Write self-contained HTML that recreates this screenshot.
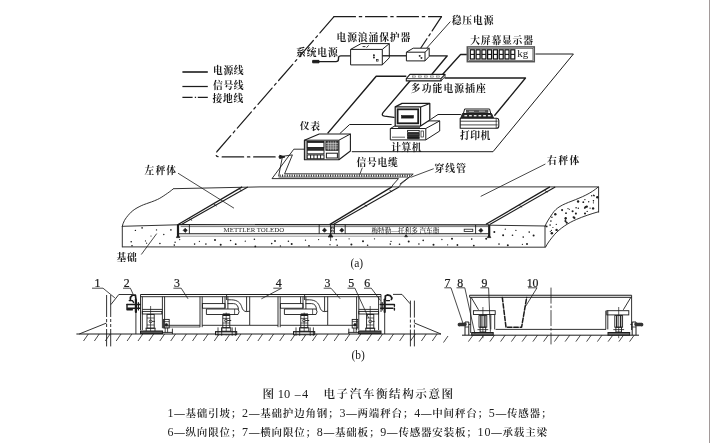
<!DOCTYPE html>
<html lang="zh"><head><meta charset="utf-8"><title>图10-4 电子汽车衡结构示意图</title>
<style>
html,body{margin:0;padding:0;background:#fff;}
body{width:710px;height:443px;overflow:hidden;position:relative;}
svg{position:absolute;left:0;top:0;display:block;filter:grayscale(1) blur(0.32px);}
.edge{position:absolute;left:708.7px;top:0;width:1.3px;height:443px;background:#a29a9a;}
.lb{font-family:"Liberation Serif","Noto Serif CJK SC",serif;font-weight:700;fill:#1a1a1a;}
.cp{font-family:"Liberation Serif","Noto Serif CJK SC",serif;font-weight:600;fill:#222;}
.nm{font-family:"Liberation Serif","Noto Serif CJK SC",serif;font-weight:400;fill:#1a1a1a;}
.nb{font-family:"Liberation Serif","Noto Serif CJK SC",serif;font-weight:400;fill:#1a1a1a;stroke:#1a1a1a;stroke-width:0.22px;}
.sm{font-family:"Liberation Serif","Noto Serif CJK SC",serif;font-weight:500;fill:#222;}
</style></head><body>
<svg width="710" height="443" viewBox="0 0 710 443">
<line x1="182.4" y1="72.0" x2="207.8" y2="72.0" stroke="#4a4a4a" stroke-width="2.0" />
<line x1="182.4" y1="86.5" x2="207.8" y2="86.5" stroke="#1c1c1c" stroke-width="1.25" />
<line x1="182.4" y1="97.3" x2="207.8" y2="97.3" stroke="#1c1c1c" stroke-width="1.2" stroke-dasharray="10.2 2.2 1.3 1.7 10.2"/>
<text x="213.0" y="74.0" font-size="9.8" class="lb" text-anchor="start" textLength="30.6" lengthAdjust="spacing">电源线</text>
<text x="213.0" y="88.5" font-size="9.8" class="lb" text-anchor="start" textLength="30.6" lengthAdjust="spacing">信号线</text>
<text x="212.4" y="102.2" font-size="9.8" class="lb" text-anchor="start" textLength="31" lengthAdjust="spacing">接地线</text>
<path d="M334,16.7 L441.5,16.7" fill="none" stroke="#1c1c1c" stroke-width="1.2" stroke-linejoin="round" stroke-linecap="round" stroke-dasharray="21.5 3.8 2.4 3.8"/>
<path d="M441.5,16.7 L420.8,48" fill="none" stroke="#1c1c1c" stroke-width="1.2" stroke-linejoin="round" stroke-linecap="round" stroke-dasharray="17 3.5 2.4 3.5 20"/>
<path d="M334,16.7 L217,151.5 Q214,156.9 220,156.9 L281,156.9" fill="none" stroke="#1c1c1c" stroke-width="1.2" stroke-linejoin="round" stroke-linecap="round" stroke-dasharray="21.5 3.8 2.4 3.8"/>
<path d="M280,155.4 L285,156.9 L280,158.4 Z" fill="#1c1c1c" stroke="#1c1c1c" stroke-width="1" stroke-linejoin="round" stroke-linecap="round" />
<polyline points="535.4,54.0 573.4,54.0 493.0,151.7 351.8,151.7" fill="none" stroke="#1c1c1c" stroke-width="1.0" stroke-linejoin="round" />
<polyline points="339.8,133.6 349.6,124.5 391.6,124.5" fill="none" stroke="#1c1c1c" stroke-width="1.0" stroke-linejoin="round" />
<polyline points="430.4,119.6 438.0,114.5 460.9,114.5" fill="none" stroke="#1c1c1c" stroke-width="1.0" stroke-linejoin="round" />
<path d="M318,61.6 L336,61.6 Q338.5,61.6 338.5,59 L338.5,57.8 Q338.5,55.8 341,55.8 L350.6,55.8" fill="none" stroke="#1c1c1c" stroke-width="1.35" stroke-linejoin="round" stroke-linecap="round" />
<path d="M313,60.4 L319,60.4 L319,62.8 L313,62.8 Z" fill="#1c1c1c" stroke="#1c1c1c" stroke-width="1" stroke-linejoin="round" stroke-linecap="round" />
<polyline points="425.4,55.8 447.3,55.8 431.7,74.5" fill="none" stroke="#1c1c1c" stroke-width="1.35" stroke-linejoin="round" />
<polyline points="466.9,54.5 460.6,54.5 442.3,74.8" fill="none" stroke="#1c1c1c" stroke-width="1.35" stroke-linejoin="round" />
<polyline points="406.3,76.2 376.2,76.2 327.6,133.4" fill="none" stroke="#1c1c1c" stroke-width="1.4500000000000002" stroke-linejoin="round" />
<path d="M410.2,80.8 L383,112.6 Q381,115.6 384.5,116.2 L394,117.4" fill="none" stroke="#1c1c1c" stroke-width="1.35" stroke-linejoin="round" stroke-linecap="round" />
<polyline points="444.5,78.0 525.5,78.0 494.4,115.8" fill="none" stroke="#1c1c1c" stroke-width="1.35" stroke-linejoin="round" />
<polygon points="350.6,49.4 361.1,43.6 389.3,43.6 389.3,57.8 382.3,64.9 350.6,64.9" fill="#fff" stroke="#1c1c1c" stroke-width="1" stroke-linejoin="round" />
<polyline points="350.6,49.4 382.3,49.4 389.3,43.6" fill="none" stroke="#1c1c1c" stroke-width="1" stroke-linejoin="round" />
<line x1="382.3" y1="49.4" x2="382.3" y2="64.9" stroke="#1c1c1c" stroke-width="1" />
<line x1="362.6" y1="46.6" x2="365.4" y2="46.6" stroke="#1c1c1c" stroke-width="0.9" />
<line x1="366.6" y1="47.6" x2="368.6" y2="45.4" stroke="#1c1c1c" stroke-width="0.9" />
<rect x="373.4" y="54.8" width="1.0" height="1.0" fill="#1c1c1c" stroke="#1c1c1c" stroke-width="0.7" />
<rect x="373.4" y="57.0" width="1.0" height="1.0" fill="#1c1c1c" stroke="#1c1c1c" stroke-width="0.7" />
<rect x="376.6" y="59.6" width="1.5" height="1.5" fill="none" stroke="#1c1c1c" stroke-width="0.7" />
<line x1="382.3" y1="55.8" x2="406.4" y2="55.8" stroke="#1c1c1c" stroke-width="1.35" />
<polygon points="406.4,52.2 413.2,48.2 429.2,48.2 429.2,56.4 425.0,60.9 406.4,60.9" fill="#fff" stroke="#1c1c1c" stroke-width="1" stroke-linejoin="round" />
<polyline points="406.4,52.2 425.0,52.2 429.2,48.2" fill="none" stroke="#1c1c1c" stroke-width="1" stroke-linejoin="round" />
<line x1="425.0" y1="52.2" x2="425.0" y2="60.9" stroke="#1c1c1c" stroke-width="1" />
<rect x="419.2" y="55.4" width="0.9" height="0.9" fill="#1c1c1c" stroke="#1c1c1c" stroke-width="0.7" />
<rect x="421.0" y="57.6" width="0.9" height="0.9" fill="#1c1c1c" stroke="#1c1c1c" stroke-width="0.7" />
<line x1="450.4" y1="21.5" x2="426.8" y2="48.0" stroke="#1c1c1c" stroke-width="0.9" />
<rect x="467.3" y="46.9" width="67.0" height="14.8" fill="#fff" stroke="#555" stroke-width="1.5" />
<rect x="468.7" y="48.3" width="64.2" height="12.0" fill="#fff" stroke="#333" stroke-width="0.6" />
<rect x="470.3" y="49.8" width="4.0" height="9.2" fill="none" stroke="#111" stroke-width="1.25" />
<line x1="470.3" y1="54.4" x2="474.3" y2="54.4" stroke="#111" stroke-width="1.1" />
<rect x="476.1" y="49.8" width="4.0" height="9.2" fill="none" stroke="#111" stroke-width="1.25" />
<line x1="476.1" y1="54.4" x2="480.1" y2="54.4" stroke="#111" stroke-width="1.1" />
<rect x="481.9" y="49.8" width="4.0" height="9.2" fill="none" stroke="#111" stroke-width="1.25" />
<line x1="481.9" y1="54.4" x2="485.9" y2="54.4" stroke="#111" stroke-width="1.1" />
<rect x="487.6" y="49.8" width="4.0" height="9.2" fill="none" stroke="#111" stroke-width="1.25" />
<line x1="487.6" y1="54.4" x2="491.6" y2="54.4" stroke="#111" stroke-width="1.1" />
<rect x="493.4" y="49.8" width="4.0" height="9.2" fill="none" stroke="#111" stroke-width="1.25" />
<line x1="493.4" y1="54.4" x2="497.4" y2="54.4" stroke="#111" stroke-width="1.1" />
<rect x="499.2" y="49.8" width="4.0" height="9.2" fill="none" stroke="#111" stroke-width="1.25" />
<line x1="499.2" y1="54.4" x2="503.2" y2="54.4" stroke="#111" stroke-width="1.1" />
<rect x="505.0" y="49.8" width="4.0" height="9.2" fill="none" stroke="#111" stroke-width="1.25" />
<line x1="505.0" y1="54.4" x2="509.0" y2="54.4" stroke="#111" stroke-width="1.1" />
<rect x="510.8" y="49.8" width="4.0" height="9.2" fill="none" stroke="#111" stroke-width="1.25" />
<line x1="510.8" y1="54.4" x2="514.8" y2="54.4" stroke="#111" stroke-width="1.1" />
<text x="517.2" y="57.4" font-size="11" class="nm" text-anchor="start" >kg</text>
<polygon points="406.3,78.6 409.9,74.4 445.0,74.4 441.0,78.6 441.0,80.9 406.3,80.9" fill="#fff" stroke="#1c1c1c" stroke-width="1.1" stroke-linejoin="round" />
<line x1="406.3" y1="78.6" x2="441.0" y2="78.6" stroke="#1c1c1c" stroke-width="0.8" />
<line x1="441.0" y1="80.9" x2="445.0" y2="76.6" stroke="#1c1c1c" stroke-width="0.9" />
<line x1="445.0" y1="74.4" x2="445.0" y2="76.6" stroke="#1c1c1c" stroke-width="0.9" />
<line x1="412.0" y1="76.5" x2="415.6" y2="76.5" stroke="#555" stroke-width="1.7" />
<line x1="412.5" y1="76.4" x2="415.2" y2="76.4" stroke="#fff" stroke-width="0.8" />
<line x1="418.0" y1="76.5" x2="421.6" y2="76.5" stroke="#555" stroke-width="1.7" />
<line x1="418.5" y1="76.4" x2="421.2" y2="76.4" stroke="#fff" stroke-width="0.8" />
<line x1="424.0" y1="76.5" x2="427.6" y2="76.5" stroke="#555" stroke-width="1.7" />
<line x1="424.5" y1="76.4" x2="427.2" y2="76.4" stroke="#fff" stroke-width="0.8" />
<line x1="430.0" y1="76.5" x2="433.6" y2="76.5" stroke="#555" stroke-width="1.7" />
<line x1="430.5" y1="76.4" x2="433.2" y2="76.4" stroke="#fff" stroke-width="0.8" />
<line x1="436.0" y1="76.5" x2="439.6" y2="76.5" stroke="#555" stroke-width="1.7" />
<line x1="436.5" y1="76.4" x2="439.2" y2="76.4" stroke="#fff" stroke-width="0.8" />
<polygon points="304.4,140.2 319.2,134.0 350.4,134.0 350.4,151.0 338.9,159.7 304.4,159.7" fill="#fff" stroke="#1c1c1c" stroke-width="1.1" stroke-linejoin="round" />
<polyline points="304.4,140.2 338.9,140.2 350.4,134.0" fill="none" stroke="#1c1c1c" stroke-width="1.0" stroke-linejoin="round" />
<line x1="338.9" y1="140.2" x2="338.9" y2="159.7" stroke="#1c1c1c" stroke-width="1.1" />
<line x1="306.0" y1="140.2" x2="306.0" y2="159.7" stroke="#1c1c1c" stroke-width="0.7" />
<rect x="307.2" y="141.4" width="16.8" height="6.2" fill="none" stroke="#1c1c1c" stroke-width="1.1" />
<line x1="307.2" y1="142.4" x2="324.0" y2="142.4" stroke="#1c1c1c" stroke-width="1.0" />
<rect x="307.2" y="148.4" width="16.8" height="1.4" fill="#1c1c1c" stroke="#1c1c1c" stroke-width="0.8" />
<rect x="307.2" y="150.2" width="16.8" height="3.6" fill="none" stroke="#1c1c1c" stroke-width="0.9" />
<rect x="307.2" y="154.9" width="16.8" height="3.9" fill="none" stroke="#1c1c1c" stroke-width="1.0" />
<line x1="310.6" y1="154.9" x2="310.6" y2="158.8" stroke="#1c1c1c" stroke-width="1.0" />
<line x1="313.9" y1="154.9" x2="313.9" y2="158.8" stroke="#1c1c1c" stroke-width="1.0" />
<line x1="317.3" y1="154.9" x2="317.3" y2="158.8" stroke="#1c1c1c" stroke-width="1.0" />
<line x1="320.6" y1="154.9" x2="320.6" y2="158.8" stroke="#1c1c1c" stroke-width="1.0" />
<rect x="325.9" y="141.3" width="12.2" height="9.0" fill="#555" stroke="#1c1c1c" stroke-width="0.9" />
<line x1="328.3" y1="141.3" x2="328.3" y2="150.3" stroke="#ddd" stroke-width="0.6" />
<line x1="330.8" y1="141.3" x2="330.8" y2="150.3" stroke="#ddd" stroke-width="0.6" />
<line x1="333.2" y1="141.3" x2="333.2" y2="150.3" stroke="#ddd" stroke-width="0.6" />
<line x1="335.7" y1="141.3" x2="335.7" y2="150.3" stroke="#ddd" stroke-width="0.6" />
<line x1="325.9" y1="143.6" x2="338.1" y2="143.6" stroke="#ddd" stroke-width="0.6" />
<line x1="325.9" y1="145.8" x2="338.1" y2="145.8" stroke="#ddd" stroke-width="0.6" />
<line x1="325.9" y1="148.1" x2="338.1" y2="148.1" stroke="#ddd" stroke-width="0.6" />
<rect x="326.4" y="153.2" width="11.0" height="4.8" fill="none" stroke="#1c1c1c" stroke-width="1.0" />
<polygon points="390.3,128.5 404.0,120.9 439.7,120.9 439.7,131.0 425.8,139.9 390.3,139.9" fill="#fff" stroke="#1c1c1c" stroke-width="1" stroke-linejoin="round" />
<polyline points="390.3,128.5 425.8,128.5 439.7,120.9" fill="none" stroke="#1c1c1c" stroke-width="1" stroke-linejoin="round" />
<line x1="425.8" y1="128.5" x2="425.8" y2="139.9" stroke="#1c1c1c" stroke-width="1" />
<rect x="407.6" y="130.4" width="11.6" height="2.0" fill="none" stroke="#1c1c1c" stroke-width="0.9" />
<rect x="407.6" y="133.4" width="11.6" height="2.2" fill="#444" stroke="#1c1c1c" stroke-width="0.9" />
<rect x="407.6" y="136.6" width="11.6" height="1.8" fill="#1c1c1c" stroke="#1c1c1c" stroke-width="0.9" />
<line x1="392.0" y1="137.2" x2="405.0" y2="137.2" stroke="#1c1c1c" stroke-width="0.7" />
<rect x="421.0" y="131.0" width="2.6" height="6.0" fill="none" stroke="#1c1c1c" stroke-width="0.7" />
<polygon points="395.2,106.9 402.0,103.4 429.8,103.4 429.8,119.9 420.6,126.0 395.2,126.0" fill="#fff" stroke="#1c1c1c" stroke-width="1.25" stroke-linejoin="round" />
<polyline points="395.2,106.9 420.6,106.9 429.8,103.4" fill="none" stroke="#1c1c1c" stroke-width="1.1" stroke-linejoin="round" />
<line x1="420.6" y1="106.9" x2="420.6" y2="126.0" stroke="#1c1c1c" stroke-width="1.2" />
<rect x="397.6" y="109.3" width="20.6" height="14.0" fill="none" stroke="#1c1c1c" stroke-width="1.8" />
<rect x="401.5" y="115.5" width="12.0" height="2.6" fill="#1c1c1c" stroke="#1c1c1c" stroke-width="0.6" />
<line x1="398.0" y1="127.6" x2="420.0" y2="127.6" stroke="#1c1c1c" stroke-width="0.8" />
<polygon points="463.4,113.6 464.6,109.0 489.6,109.0 490.8,113.6" fill="#fff" stroke="#1c1c1c" stroke-width="1.0" stroke-linejoin="round" />
<rect x="466.4" y="110.3" width="21.6" height="2.3" fill="#555" stroke="#333" stroke-width="0.6" />
<line x1="469.0" y1="111.4" x2="474.0" y2="111.4" stroke="#ddd" stroke-width="0.7" />
<line x1="479.0" y1="111.2" x2="485.0" y2="111.2" stroke="#ddd" stroke-width="0.7" />
<polygon points="460.8,118.2 462.4,113.6 491.6,113.6 493.6,118.2" fill="#2a2a2a" stroke="#1c1c1c" stroke-width="0.9" stroke-linejoin="round" />
<line x1="464.4" y1="115.7" x2="467.1" y2="115.7" stroke="#f4f4f4" stroke-width="1.3" />
<line x1="469.1" y1="115.7" x2="471.8" y2="115.7" stroke="#f4f4f4" stroke-width="1.3" />
<line x1="473.8" y1="115.7" x2="476.5" y2="115.7" stroke="#f4f4f4" stroke-width="1.3" />
<line x1="478.5" y1="115.7" x2="481.2" y2="115.7" stroke="#f4f4f4" stroke-width="1.3" />
<line x1="483.2" y1="115.7" x2="485.9" y2="115.7" stroke="#f4f4f4" stroke-width="1.3" />
<line x1="487.9" y1="115.7" x2="490.6" y2="115.7" stroke="#f4f4f4" stroke-width="1.3" />
<path d="M460.2,118.2 L496.8,118.2 Q498.8,118.4 498.8,120.6 L498.8,126 Q498.8,128.3 496.4,128.3 L460.2,128.3 Z" fill="#fff" stroke="#1c1c1c" stroke-width="1.1" stroke-linejoin="round" stroke-linecap="round" />
<line x1="460.2" y1="121.2" x2="497.6" y2="121.2" stroke="#1c1c1c" stroke-width="0.8" />
<line x1="460.2" y1="124.9" x2="497.6" y2="124.9" stroke="#1c1c1c" stroke-width="0.8" />
<line x1="496.2" y1="118.2" x2="496.2" y2="128.3" stroke="#1c1c1c" stroke-width="0.7" />
<text x="336.6" y="40.5" font-size="9.8" class="lb" text-anchor="start" textLength="73.6" lengthAdjust="spacing">电源浪涌保护器</text>
<text x="296.0" y="55.8" font-size="9.8" class="lb" text-anchor="start" textLength="41.8" lengthAdjust="spacing">系统电源</text>
<text x="451.7" y="24.2" font-size="9.8" class="lb" text-anchor="start" textLength="41.8" lengthAdjust="spacing">稳压电源</text>
<text x="470.2" y="43.7" font-size="9.8" class="lb" text-anchor="start" textLength="62.8" lengthAdjust="spacing">大屏幕显示器</text>
<text x="410.8" y="92.4" font-size="9.8" class="lb" text-anchor="start" textLength="75" lengthAdjust="spacing">多功能电源插座</text>
<text x="299.8" y="130.2" font-size="9.8" class="lb" text-anchor="start" textLength="20.2" lengthAdjust="spacing">仪表</text>
<text x="391.2" y="151.3" font-size="9.8" class="lb" text-anchor="start" textLength="30.4" lengthAdjust="spacing">计算机</text>
<text x="460.0" y="139.2" font-size="9.8" class="lb" text-anchor="start" textLength="30.2" lengthAdjust="spacing">打印机</text>
<text x="356.6" y="166.4" font-size="9.8" class="lb" text-anchor="start" textLength="41.2" lengthAdjust="spacing">信号电缆</text>
<text x="434.4" y="171.8" font-size="9.8" class="lb" text-anchor="start" textLength="31.6" lengthAdjust="spacing">穿线管</text>
<text x="547.0" y="164.4" font-size="9.8" class="lb" text-anchor="start" textLength="32.4" lengthAdjust="spacing">右秤体</text>
<text x="144.6" y="174.4" font-size="9.8" class="lb" text-anchor="start" textLength="31.4" lengthAdjust="spacing">左秤体</text>
<text x="116.5" y="261.4" font-size="9.8" class="lb" text-anchor="start" textLength="20.4" lengthAdjust="spacing">基础</text>
<line x1="173.5" y1="188.7" x2="260.0" y2="186.9" stroke="#1c1c1c" stroke-width="0.9" />
<line x1="260.0" y1="186.9" x2="598.6" y2="186.9" stroke="#1c1c1c" stroke-width="0.9" />
<path d="M173.5,188.7 C170,191.5 168,193 165.8,194.4 C162,197 160,198.3 157.4,199.5 C153,201.5 150,202.4 146.4,203.7 C142,205.2 140,206.3 137,207.9 C134,209.6 131.5,211.5 129.5,213.8 C127.2,216.4 125.6,218.4 124.4,220.6 C123.3,222.8 122.6,224.6 122.2,226.5" fill="none" stroke="#1c1c1c" stroke-width="0.9" stroke-linejoin="round" stroke-linecap="round" />
<polyline points="122.3,226.3 122.3,247.3" fill="none" stroke="#1c1c1c" stroke-width="0.9" stroke-linejoin="round" />
<line x1="122.3" y1="226.3" x2="177.3" y2="224.8" stroke="#1c1c1c" stroke-width="0.9" />
<line x1="122.3" y1="246.9" x2="545.6" y2="247.2" stroke="#1c1c1c" stroke-width="0.9" />
<line x1="598.6" y1="186.8" x2="598.6" y2="212.5" stroke="#1c1c1c" stroke-width="0.9" />
<path d="M598.2,187 C591,193.5 581,197.5 572,201 C562,204.8 556.5,207.5 552.5,213.5 C548.5,219.5 546.2,223 545,226.3" fill="none" stroke="#1c1c1c" stroke-width="0.9" stroke-linejoin="round" stroke-linecap="round" />
<path d="M598.4,211.8 C591,213.8 583,216.6 576.5,219.4 C568,223 560,228.5 554.8,234.2 C551,238.6 547.6,243 545.6,247" fill="none" stroke="#1c1c1c" stroke-width="0.9" stroke-linejoin="round" stroke-linecap="round" />
<line x1="545.0" y1="226.2" x2="545.0" y2="247.0" stroke="#1c1c1c" stroke-width="0.9" />
<line x1="489.6" y1="225.2" x2="546.0" y2="226.0" stroke="#1c1c1c" stroke-width="0.9" />
<line x1="178.0" y1="173.2" x2="234.0" y2="208.2" stroke="#1c1c1c" stroke-width="0.8" />
<line x1="545.4" y1="164.0" x2="480.7" y2="196.4" stroke="#1c1c1c" stroke-width="0.8" />
<line x1="141.3" y1="254.5" x2="156.7" y2="233.6" stroke="#1c1c1c" stroke-width="0.8" />
<line x1="433.7" y1="168.7" x2="410.6" y2="177.4" stroke="#1c1c1c" stroke-width="0.8" />
<line x1="362.3" y1="167.7" x2="359.7" y2="174.6" stroke="#1c1c1c" stroke-width="0.8" />
<line x1="177.7" y1="224.8" x2="242.2" y2="186.9" stroke="#1c1c1c" stroke-width="1.25" />
<line x1="181.0" y1="224.8" x2="247.8" y2="186.9" stroke="#1c1c1c" stroke-width="1.1" />
<line x1="329.6" y1="224.6" x2="391.9" y2="186.9" stroke="#1c1c1c" stroke-width="1.25" />
<line x1="333.2" y1="224.6" x2="399.0" y2="186.9" stroke="#1c1c1c" stroke-width="1.1" />
<line x1="486.0" y1="224.3" x2="549.9" y2="186.9" stroke="#1c1c1c" stroke-width="1.25" />
<line x1="489.7" y1="224.6" x2="555.2" y2="186.9" stroke="#1c1c1c" stroke-width="1.1" />
<line x1="189.5" y1="218.8" x2="192.1" y2="220.4" stroke="#1c1c1c" stroke-width="0.9" />
<line x1="214.0" y1="204.4" x2="216.6" y2="206.0" stroke="#1c1c1c" stroke-width="0.9" />
<line x1="239.5" y1="189.4" x2="242.1" y2="191.0" stroke="#1c1c1c" stroke-width="0.9" />
<line x1="364.5" y1="204.8" x2="367.1" y2="206.4" stroke="#1c1c1c" stroke-width="0.9" />
<line x1="389.5" y1="190.2" x2="392.1" y2="191.8" stroke="#1c1c1c" stroke-width="0.9" />
<line x1="519.5" y1="205.6" x2="522.1" y2="207.2" stroke="#1c1c1c" stroke-width="0.9" />
<line x1="545.0" y1="190.6" x2="547.6" y2="192.2" stroke="#1c1c1c" stroke-width="0.9" />
<line x1="177.3" y1="224.6" x2="489.6" y2="224.9" stroke="#1c1c1c" stroke-width="1.1" />
<line x1="177.3" y1="233.8" x2="489.6" y2="233.8" stroke="#1c1c1c" stroke-width="1.1" />
<line x1="179.0" y1="236.2" x2="488.0" y2="236.2" stroke="#555" stroke-width="0.6" />
<line x1="178.0" y1="224.6" x2="178.0" y2="236.8" stroke="#1c1c1c" stroke-width="2.2" />
<line x1="489.2" y1="224.9" x2="489.2" y2="236.8" stroke="#1c1c1c" stroke-width="2.2" />
<line x1="180.6" y1="226.6" x2="488.0" y2="226.6" stroke="#1c1c1c" stroke-width="0.6" />
<line x1="189.4" y1="224.6" x2="189.4" y2="233.8" stroke="#1c1c1c" stroke-width="0.9" />
<line x1="319.2" y1="224.6" x2="319.2" y2="233.8" stroke="#1c1c1c" stroke-width="0.9" />
<line x1="345.2" y1="224.6" x2="345.2" y2="233.8" stroke="#1c1c1c" stroke-width="0.9" />
<line x1="475.6" y1="224.9" x2="475.6" y2="233.8" stroke="#1c1c1c" stroke-width="0.9" />
<line x1="330.6" y1="224.6" x2="330.6" y2="233.8" stroke="#1c1c1c" stroke-width="1.0" />
<line x1="334.4" y1="224.6" x2="334.4" y2="233.8" stroke="#1c1c1c" stroke-width="1.0" />
<rect x="331.6" y="227.4" width="1.8" height="1.6" fill="none" stroke="#1c1c1c" stroke-width="0.6" />
<rect x="331.6" y="230.4" width="1.8" height="1.6" fill="none" stroke="#1c1c1c" stroke-width="0.6" />
<polygon points="183.1,230.3 185.2,228.2 187.3,230.3 185.2,232.4" fill="#1c1c1c" stroke="#1c1c1c" stroke-width="0.6" stroke-linejoin="round" />
<polygon points="322.4,230.2 324.5,228.1 326.6,230.2 324.5,232.3" fill="#1c1c1c" stroke="#1c1c1c" stroke-width="0.6" stroke-linejoin="round" />
<polygon points="339.7,230.2 341.8,228.1 343.9,230.2 341.8,232.3" fill="#1c1c1c" stroke="#1c1c1c" stroke-width="0.6" stroke-linejoin="round" />
<polygon points="478.8,230.4 480.9,228.3 483.0,230.4 480.9,232.5" fill="#1c1c1c" stroke="#1c1c1c" stroke-width="0.6" stroke-linejoin="round" />
<rect x="464.2" y="229.2" width="8.6" height="2.4" fill="none" stroke="#1c1c1c" stroke-width="0.8" />
<polygon points="178.0,235.0 176.4,237.6 179.8,237.6" fill="#1c1c1c" stroke="#1c1c1c" stroke-width="0.8" stroke-linejoin="round" />
<polygon points="330.6,233.6 328.2,237.0 333.0,237.0" fill="#1c1c1c" stroke="#1c1c1c" stroke-width="0.8" stroke-linejoin="round" />
<line x1="330.6" y1="237.0" x2="330.6" y2="241.0" stroke="#1c1c1c" stroke-width="0.7" />
<polygon points="489.0,235.0 487.4,237.6 490.8,237.6" fill="#1c1c1c" stroke="#1c1c1c" stroke-width="0.8" stroke-linejoin="round" />
<polygon points="406.0,234.6 404.6,236.8 407.6,236.8" fill="#1c1c1c" stroke="#1c1c1c" stroke-width="0.6" stroke-linejoin="round" />
<text x="223.6" y="231.9" font-size="6.2" class="sm" text-anchor="start" textLength="60.5" lengthAdjust="spacingAndGlyphs">METTLER TOLEDO</text>
<text x="371.4" y="232.6" font-size="6.3" class="sm" text-anchor="start" textLength="68" lengthAdjust="spacingAndGlyphs">梅特勒—托利多 汽车衡</text>
<text x="350.4" y="266.8" font-size="11.5" class="nm" text-anchor="start" >(a)</text>
<circle cx="135.4" cy="230.4" r="0.7" fill="#1c1c1c"/>
<circle cx="142.1" cy="227.9" r="0.8" fill="#1c1c1c"/>
<circle cx="156.5" cy="229.9" r="0.7" fill="#1c1c1c"/>
<circle cx="163.8" cy="234.5" r="0.7" fill="#1c1c1c"/>
<circle cx="170.9" cy="229.9" r="0.8" fill="#1c1c1c"/>
<circle cx="131.2" cy="241.8" r="0.8" fill="#1c1c1c"/>
<circle cx="145.5" cy="240.9" r="0.6" fill="#1c1c1c"/>
<circle cx="146.6" cy="243.2" r="0.6" fill="#1c1c1c"/>
<circle cx="159.9" cy="243.5" r="0.8" fill="#1c1c1c"/>
<circle cx="175.1" cy="242.3" r="0.7" fill="#1c1c1c"/>
<circle cx="174.3" cy="245.1" r="0.8" fill="#1c1c1c"/>
<circle cx="132.0" cy="245.8" r="0.8" fill="#1c1c1c"/>
<circle cx="151.0" cy="236.0" r="0.6" fill="#1c1c1c"/>
<circle cx="179.7" cy="239.6" r="0.65" fill="#1c1c1c"/>
<circle cx="199.4" cy="241.3" r="0.65" fill="#1c1c1c"/>
<circle cx="215.0" cy="239.9" r="1.0" fill="#1c1c1c"/>
<circle cx="230.6" cy="240.5" r="0.8" fill="#1c1c1c"/>
<circle cx="245.3" cy="241.2" r="0.65" fill="#1c1c1c"/>
<circle cx="254.4" cy="239.3" r="0.8" fill="#1c1c1c"/>
<circle cx="275.0" cy="241.0" r="0.9" fill="#1c1c1c"/>
<circle cx="288.4" cy="241.2" r="0.8" fill="#1c1c1c"/>
<circle cx="305.5" cy="240.2" r="0.65" fill="#1c1c1c"/>
<circle cx="318.6" cy="239.6" r="0.65" fill="#1c1c1c"/>
<circle cx="336.2" cy="239.7" r="0.8" fill="#1c1c1c"/>
<circle cx="349.1" cy="238.8" r="0.65" fill="#1c1c1c"/>
<circle cx="363.0" cy="241.2" r="1.0" fill="#1c1c1c"/>
<circle cx="374.5" cy="238.8" r="0.65" fill="#1c1c1c"/>
<circle cx="391.0" cy="241.4" r="0.65" fill="#1c1c1c"/>
<circle cx="408.7" cy="241.6" r="1.0" fill="#1c1c1c"/>
<circle cx="423.2" cy="240.4" r="0.8" fill="#1c1c1c"/>
<circle cx="441.9" cy="239.5" r="0.65" fill="#1c1c1c"/>
<circle cx="452.0" cy="238.8" r="1.0" fill="#1c1c1c"/>
<circle cx="471.7" cy="239.1" r="0.8" fill="#1c1c1c"/>
<circle cx="486.2" cy="238.8" r="1.0" fill="#1c1c1c"/>
<circle cx="194.6" cy="244.1" r="0.8" fill="#1c1c1c"/>
<circle cx="205.9" cy="244.1" r="0.8" fill="#1c1c1c"/>
<circle cx="220.7" cy="244.7" r="1.0" fill="#1c1c1c"/>
<circle cx="235.7" cy="244.2" r="0.9" fill="#1c1c1c"/>
<circle cx="255.3" cy="246.4" r="0.9" fill="#1c1c1c"/>
<circle cx="271.7" cy="243.6" r="0.8" fill="#1c1c1c"/>
<circle cx="280.4" cy="246.0" r="0.65" fill="#1c1c1c"/>
<circle cx="291.7" cy="244.0" r="1.0" fill="#1c1c1c"/>
<circle cx="309.0" cy="245.8" r="0.9" fill="#1c1c1c"/>
<circle cx="330.0" cy="244.7" r="0.65" fill="#1c1c1c"/>
<circle cx="337.2" cy="245.2" r="0.8" fill="#1c1c1c"/>
<circle cx="351.4" cy="244.6" r="1.0" fill="#1c1c1c"/>
<circle cx="367.6" cy="245.3" r="0.8" fill="#1c1c1c"/>
<circle cx="390.3" cy="244.1" r="0.8" fill="#1c1c1c"/>
<circle cx="399.5" cy="244.2" r="0.8" fill="#1c1c1c"/>
<circle cx="418.9" cy="244.0" r="0.8" fill="#1c1c1c"/>
<circle cx="433.5" cy="244.7" r="1.0" fill="#1c1c1c"/>
<circle cx="447.6" cy="244.8" r="0.65" fill="#1c1c1c"/>
<circle cx="457.4" cy="245.0" r="0.9" fill="#1c1c1c"/>
<circle cx="473.8" cy="245.6" r="0.9" fill="#1c1c1c"/>
<circle cx="494.3" cy="232.1" r="1.0" fill="#1c1c1c"/>
<circle cx="505.3" cy="229.2" r="0.65" fill="#1c1c1c"/>
<circle cx="515.9" cy="230.4" r="0.65" fill="#1c1c1c"/>
<circle cx="529.2" cy="232.1" r="0.8" fill="#1c1c1c"/>
<circle cx="503.1" cy="235.3" r="1.0" fill="#1c1c1c"/>
<circle cx="512.5" cy="235.3" r="0.8" fill="#1c1c1c"/>
<circle cx="523.2" cy="237.1" r="0.8" fill="#1c1c1c"/>
<circle cx="533.6" cy="235.6" r="1.0" fill="#1c1c1c"/>
<circle cx="499.0" cy="244.1" r="0.8" fill="#1c1c1c"/>
<circle cx="507.8" cy="245.2" r="1.0" fill="#1c1c1c"/>
<circle cx="522.4" cy="244.3" r="0.65" fill="#1c1c1c"/>
<circle cx="527.0" cy="244.0" r="1.0" fill="#1c1c1c"/>
<circle cx="569.3" cy="209.3" r="0.6" fill="#1c1c1c"/>
<circle cx="593.1" cy="208.4" r="1.2" fill="#1c1c1c"/>
<circle cx="546.7" cy="226.4" r="0.9" fill="#1c1c1c"/>
<circle cx="550.1" cy="225.1" r="0.8" fill="#1c1c1c"/>
<circle cx="575.9" cy="213.6" r="1.05" fill="#1c1c1c"/>
<circle cx="550.3" cy="231.5" r="0.6" fill="#1c1c1c"/>
<circle cx="551.8" cy="233.2" r="1.2" fill="#1c1c1c"/>
<circle cx="593.4" cy="202.8" r="0.6" fill="#1c1c1c"/>
<circle cx="584.8" cy="207.9" r="0.9" fill="#1c1c1c"/>
<circle cx="584.9" cy="199.6" r="0.7" fill="#1c1c1c"/>
<circle cx="565.8" cy="221.8" r="0.8" fill="#1c1c1c"/>
<circle cx="565.7" cy="218.2" r="1.2" fill="#1c1c1c"/>
<circle cx="588.7" cy="201.8" r="0.7" fill="#1c1c1c"/>
<circle cx="597.3" cy="197.2" r="1.2" fill="#1c1c1c"/>
<circle cx="565.4" cy="221.0" r="1.05" fill="#1c1c1c"/>
<circle cx="556.6" cy="229.9" r="1.2" fill="#1c1c1c"/>
<circle cx="593.6" cy="195.2" r="0.7" fill="#1c1c1c"/>
<circle cx="586.7" cy="206.6" r="1.2" fill="#1c1c1c"/>
<circle cx="590.1" cy="208.2" r="0.6" fill="#1c1c1c"/>
<circle cx="593.4" cy="200.7" r="0.6" fill="#1c1c1c"/>
<circle cx="585.0" cy="213.5" r="1.05" fill="#1c1c1c"/>
<circle cx="562.1" cy="210.1" r="1.05" fill="#1c1c1c"/>
<circle cx="573.6" cy="217.2" r="1.05" fill="#1c1c1c"/>
<circle cx="565.4" cy="219.2" r="0.6" fill="#1c1c1c"/>
<circle cx="572.6" cy="211.2" r="1.05" fill="#1c1c1c"/>
<circle cx="587.2" cy="211.4" r="0.7" fill="#1c1c1c"/>
<circle cx="552.7" cy="233.2" r="0.6" fill="#1c1c1c"/>
<circle cx="583.3" cy="202.2" r="0.9" fill="#1c1c1c"/>
<circle cx="551.4" cy="230.4" r="0.6" fill="#1c1c1c"/>
<circle cx="578.3" cy="208.2" r="0.7" fill="#1c1c1c"/>
<circle cx="593.5" cy="200.7" r="0.7" fill="#1c1c1c"/>
<circle cx="591.7" cy="195.8" r="0.7" fill="#1c1c1c"/>
<circle cx="566.0" cy="213.2" r="0.9" fill="#1c1c1c"/>
<circle cx="556.3" cy="224.4" r="0.6" fill="#1c1c1c"/>
<circle cx="550.9" cy="221.1" r="0.8" fill="#1c1c1c"/>
<circle cx="551.9" cy="217.3" r="0.8" fill="#1c1c1c"/>
<circle cx="574.4" cy="217.9" r="1.05" fill="#1c1c1c"/>
<circle cx="552.9" cy="227.5" r="0.6" fill="#1c1c1c"/>
<circle cx="585.4" cy="207.0" r="0.9" fill="#1c1c1c"/>
<circle cx="568.0" cy="208.6" r="0.7" fill="#1c1c1c"/>
<circle cx="555.3" cy="214.3" r="1.2" fill="#1c1c1c"/>
<circle cx="586.8" cy="206.8" r="0.6" fill="#1c1c1c"/>
<circle cx="566.8" cy="222.8" r="1.05" fill="#1c1c1c"/>
<circle cx="576.1" cy="207.8" r="0.8" fill="#1c1c1c"/>
<circle cx="594.1" cy="195.7" r="0.8" fill="#1c1c1c"/>
<circle cx="578.1" cy="201.5" r="1.2" fill="#1c1c1c"/>
<polyline points="304.4,149.2 293.8,149.2 272.0,178.6 398.5,178.6 392.8,185.0 391.9,186.9" fill="none" stroke="#1c1c1c" stroke-width="0.9" stroke-linejoin="round" />
<polyline points="282.5,156.3 278.6,176.3" fill="none" stroke="#1c1c1c" stroke-width="0.9" stroke-linejoin="round" />
<polyline points="292.4,154.9 284.6,173.8 413.2,174.1 401.5,183.5 399.0,186.8" fill="none" stroke="#1c1c1c" stroke-width="0.9" stroke-linejoin="round" />
<line x1="282.5" y1="156.3" x2="292.4" y2="154.9" stroke="#1c1c1c" stroke-width="0.9" />
<polyline points="279.6,175.7 410.0,175.7" fill="none" stroke="#333" stroke-width="2.2" stroke-linejoin="round" stroke-dasharray="1.1 1.3"/>
<line x1="278.6" y1="177.1" x2="408.0" y2="177.1" stroke="#1c1c1c" stroke-width="0.7" />
<line x1="409.5" y1="176.8" x2="399.8" y2="184.0" stroke="#1c1c1c" stroke-width="0.8" />
<line x1="76.4" y1="334.0" x2="441.0" y2="334.0" stroke="#1c1c1c" stroke-width="1.0" />
<line x1="88.3" y1="334.0" x2="83.5" y2="341.0" stroke="#1c1c1c" stroke-width="0.8" />
<line x1="99.2" y1="334.0" x2="94.4" y2="341.0" stroke="#1c1c1c" stroke-width="0.8" />
<line x1="110.1" y1="334.0" x2="105.3" y2="341.0" stroke="#1c1c1c" stroke-width="0.8" />
<line x1="121.0" y1="334.0" x2="116.2" y2="341.0" stroke="#1c1c1c" stroke-width="0.8" />
<line x1="131.9" y1="334.0" x2="127.1" y2="341.0" stroke="#1c1c1c" stroke-width="0.8" />
<line x1="142.8" y1="334.0" x2="138.0" y2="341.0" stroke="#1c1c1c" stroke-width="0.8" />
<line x1="153.7" y1="334.0" x2="148.9" y2="341.0" stroke="#1c1c1c" stroke-width="0.8" />
<line x1="164.6" y1="334.0" x2="159.8" y2="341.0" stroke="#1c1c1c" stroke-width="0.8" />
<line x1="175.5" y1="334.0" x2="170.7" y2="341.0" stroke="#1c1c1c" stroke-width="0.8" />
<line x1="186.4" y1="334.0" x2="181.6" y2="341.0" stroke="#1c1c1c" stroke-width="0.8" />
<line x1="197.3" y1="334.0" x2="192.5" y2="341.0" stroke="#1c1c1c" stroke-width="0.8" />
<line x1="208.2" y1="334.0" x2="203.4" y2="341.0" stroke="#1c1c1c" stroke-width="0.8" />
<line x1="219.1" y1="334.0" x2="214.3" y2="341.0" stroke="#1c1c1c" stroke-width="0.8" />
<line x1="230.0" y1="334.0" x2="225.2" y2="341.0" stroke="#1c1c1c" stroke-width="0.8" />
<line x1="240.9" y1="334.0" x2="236.1" y2="341.0" stroke="#1c1c1c" stroke-width="0.8" />
<line x1="251.8" y1="334.0" x2="247.0" y2="341.0" stroke="#1c1c1c" stroke-width="0.8" />
<line x1="262.7" y1="334.0" x2="257.9" y2="341.0" stroke="#1c1c1c" stroke-width="0.8" />
<line x1="273.6" y1="334.0" x2="268.8" y2="341.0" stroke="#1c1c1c" stroke-width="0.8" />
<line x1="284.5" y1="334.0" x2="279.7" y2="341.0" stroke="#1c1c1c" stroke-width="0.8" />
<line x1="295.4" y1="334.0" x2="290.6" y2="341.0" stroke="#1c1c1c" stroke-width="0.8" />
<line x1="306.3" y1="334.0" x2="301.5" y2="341.0" stroke="#1c1c1c" stroke-width="0.8" />
<line x1="317.2" y1="334.0" x2="312.4" y2="341.0" stroke="#1c1c1c" stroke-width="0.8" />
<line x1="328.1" y1="334.0" x2="323.3" y2="341.0" stroke="#1c1c1c" stroke-width="0.8" />
<line x1="339.0" y1="334.0" x2="334.2" y2="341.0" stroke="#1c1c1c" stroke-width="0.8" />
<line x1="349.9" y1="334.0" x2="345.1" y2="341.0" stroke="#1c1c1c" stroke-width="0.8" />
<line x1="360.8" y1="334.0" x2="356.0" y2="341.0" stroke="#1c1c1c" stroke-width="0.8" />
<line x1="371.7" y1="334.0" x2="366.9" y2="341.0" stroke="#1c1c1c" stroke-width="0.8" />
<line x1="382.6" y1="334.0" x2="377.8" y2="341.0" stroke="#1c1c1c" stroke-width="0.8" />
<line x1="393.5" y1="334.0" x2="388.7" y2="341.0" stroke="#1c1c1c" stroke-width="0.8" />
<line x1="404.4" y1="334.0" x2="399.6" y2="341.0" stroke="#1c1c1c" stroke-width="0.8" />
<line x1="415.3" y1="334.0" x2="410.5" y2="341.0" stroke="#1c1c1c" stroke-width="0.8" />
<line x1="426.2" y1="334.0" x2="421.4" y2="341.0" stroke="#1c1c1c" stroke-width="0.8" />
<line x1="437.1" y1="334.0" x2="432.3" y2="341.0" stroke="#1c1c1c" stroke-width="0.8" />
<line x1="448.0" y1="336.0" x2="443.5" y2="342.5" stroke="#1c1c1c" stroke-width="0.8" />
<line x1="79.2" y1="334.0" x2="106.6" y2="323.0" stroke="#1c1c1c" stroke-width="0.9" />
<line x1="414.4" y1="323.0" x2="441.0" y2="334.0" stroke="#1c1c1c" stroke-width="0.9" />
<line x1="106.6" y1="295.0" x2="106.6" y2="346.4" stroke="#1c1c1c" stroke-width="0.9" stroke-dasharray="22 2 3 2 3 2 30"/>
<line x1="110.7" y1="295.0" x2="110.7" y2="346.4" stroke="#1c1c1c" stroke-width="0.9" stroke-dasharray="22 2 3 2 3 2 30"/>
<line x1="410.4" y1="300.6" x2="410.4" y2="346.4" stroke="#1c1c1c" stroke-width="0.9" stroke-dasharray="17 2 3 2 3 2 30"/>
<line x1="414.4" y1="300.6" x2="414.4" y2="346.4" stroke="#1c1c1c" stroke-width="0.9" stroke-dasharray="17 2 3 2 3 2 30"/>
<polyline points="110.9,304.6 118.8,294.5 132.6,294.5" fill="none" stroke="#1c1c1c" stroke-width="0.9" stroke-linejoin="round" />
<polyline points="393.0,294.4 402.0,294.4 410.2,303.8" fill="none" stroke="#1c1c1c" stroke-width="0.9" stroke-linejoin="round" />
<line x1="140.5" y1="294.5" x2="381.0" y2="294.5" stroke="#1c1c1c" stroke-width="1.1" />
<line x1="140.5" y1="296.7" x2="381.0" y2="296.7" stroke="#1c1c1c" stroke-width="0.9" />
<line x1="140.5" y1="294.5" x2="140.5" y2="330.0" stroke="#1c1c1c" stroke-width="0.9" />
<line x1="142.3" y1="296.6" x2="142.3" y2="330.0" stroke="#1c1c1c" stroke-width="0.9" />
<line x1="381.0" y1="294.5" x2="381.0" y2="312.0" stroke="#1c1c1c" stroke-width="0.9" />
<line x1="378.6" y1="296.6" x2="378.6" y2="330.0" stroke="#1c1c1c" stroke-width="0.9" />
<line x1="226.6" y1="294.5" x2="226.6" y2="300.0" stroke="#1c1c1c" stroke-width="0.9" />
<line x1="304.6" y1="294.5" x2="304.6" y2="300.0" stroke="#1c1c1c" stroke-width="0.9" />
<line x1="162.4" y1="296.6" x2="162.4" y2="328.2" stroke="#1c1c1c" stroke-width="0.9" />
<line x1="164.6" y1="296.6" x2="164.6" y2="328.2" stroke="#1c1c1c" stroke-width="0.9" />
<line x1="356.6" y1="296.6" x2="356.6" y2="330.0" stroke="#1c1c1c" stroke-width="0.9" />
<line x1="358.8" y1="296.6" x2="358.8" y2="330.0" stroke="#1c1c1c" stroke-width="0.9" />
<line x1="200.0" y1="296.6" x2="200.0" y2="327.2" stroke="#1c1c1c" stroke-width="0.9" />
<line x1="202.2" y1="296.6" x2="202.2" y2="327.2" stroke="#1c1c1c" stroke-width="0.9" />
<line x1="246.6" y1="296.6" x2="246.6" y2="311.6" stroke="#1c1c1c" stroke-width="0.9" />
<line x1="249.7" y1="296.6" x2="249.7" y2="325.4" stroke="#1c1c1c" stroke-width="0.9" />
<line x1="278.0" y1="296.6" x2="278.0" y2="327.2" stroke="#1c1c1c" stroke-width="0.9" />
<line x1="280.2" y1="296.6" x2="280.2" y2="327.2" stroke="#1c1c1c" stroke-width="0.9" />
<line x1="324.6" y1="296.6" x2="324.6" y2="311.6" stroke="#1c1c1c" stroke-width="0.9" />
<line x1="327.7" y1="296.6" x2="327.7" y2="325.4" stroke="#1c1c1c" stroke-width="0.9" />
<line x1="164.6" y1="325.3" x2="200.0" y2="325.3" stroke="#1c1c1c" stroke-width="0.9" />
<line x1="202.2" y1="325.3" x2="249.7" y2="325.3" stroke="#1c1c1c" stroke-width="0.9" />
<line x1="249.7" y1="325.3" x2="278.0" y2="325.3" stroke="#1c1c1c" stroke-width="0.9" />
<line x1="280.2" y1="325.3" x2="327.7" y2="325.3" stroke="#1c1c1c" stroke-width="0.9" />
<line x1="327.7" y1="325.3" x2="356.6" y2="325.3" stroke="#1c1c1c" stroke-width="0.9" />
<line x1="164.6" y1="327.0" x2="200.0" y2="327.0" stroke="#1c1c1c" stroke-width="0.7" />
<line x1="222.6" y1="296.6" x2="222.6" y2="303.6" stroke="#1c1c1c" stroke-width="0.9" />
<line x1="225.0" y1="296.6" x2="225.0" y2="308.4" stroke="#1c1c1c" stroke-width="0.9" />
<rect x="202.4" y="303.6" width="22.6" height="4.6" fill="none" stroke="#1c1c1c" stroke-width="0.9" />
<path d="M206.8,309 L238.0,309 Q240.2,311.8 238.0,314.5 L206.8,314.5 Z" fill="none" stroke="#1c1c1c" stroke-width="0.9" stroke-linejoin="round" stroke-linecap="round" />
<line x1="234.6" y1="309.0" x2="234.6" y2="314.5" stroke="#1c1c1c" stroke-width="0.7" />
<line x1="227.9" y1="296.6" x2="227.9" y2="309.0" stroke="#1c1c1c" stroke-width="0.9" />
<path d="M227.9,299.8 L231.6,299.8 C238.1,300 240.6,303.4 241.6,306.6 C242.6,310 244.0,311.6 246.6,311.6 L249.6,311.2" fill="none" stroke="#1c1c1c" stroke-width="0.9" stroke-linejoin="round" stroke-linecap="round" />
<path d="M227.9,303.6 L233.6,303.6 C236.8,303.8 238.2,306 238.5,309" fill="none" stroke="#1c1c1c" stroke-width="0.9" stroke-linejoin="round" stroke-linecap="round" />
<line x1="226.2" y1="312.6" x2="226.2" y2="335.4" stroke="#1c1c1c" stroke-width="0.7" />
<rect x="223.2" y="313.9" width="6.4" height="1.5" fill="#1c1c1c" stroke="#1c1c1c" stroke-width="0.8" />
<rect x="222.8" y="315.4" width="7.0" height="12.4" fill="none" stroke="#1c1c1c" stroke-width="0.9" />
<line x1="222.8" y1="318.4" x2="229.8" y2="318.4" stroke="#1c1c1c" stroke-width="0.7" />
<line x1="222.8" y1="323.0" x2="229.8" y2="323.0" stroke="#1c1c1c" stroke-width="0.7" />
<circle cx="226.0" cy="320.5" r="1.4" fill="none" stroke="#1c1c1c" stroke-width="0.8"/>
<line x1="227.4" y1="320.5" x2="231.2" y2="320.5" stroke="#1c1c1c" stroke-width="0.9" />
<rect x="221.8" y="327.8" width="9.0" height="3.4" fill="none" stroke="#1c1c1c" stroke-width="0.9" />
<rect x="215.5" y="331.6" width="21.2" height="3.1" fill="#bbb" stroke="#1c1c1c" stroke-width="1.0" />
<line x1="218.0" y1="327.4" x2="218.0" y2="335.8" stroke="#1c1c1c" stroke-width="0.8" />
<line x1="221.7" y1="327.4" x2="221.7" y2="335.8" stroke="#1c1c1c" stroke-width="0.8" />
<line x1="232.2" y1="327.4" x2="232.2" y2="335.8" stroke="#1c1c1c" stroke-width="0.8" />
<line x1="235.4" y1="327.4" x2="235.4" y2="335.8" stroke="#1c1c1c" stroke-width="0.8" />
<line x1="300.6" y1="296.6" x2="300.6" y2="303.6" stroke="#1c1c1c" stroke-width="0.9" />
<line x1="303.0" y1="296.6" x2="303.0" y2="308.4" stroke="#1c1c1c" stroke-width="0.9" />
<rect x="280.4" y="303.6" width="22.6" height="4.6" fill="none" stroke="#1c1c1c" stroke-width="0.9" />
<path d="M284.8,309 L316.0,309 Q318.2,311.8 316.0,314.5 L284.8,314.5 Z" fill="none" stroke="#1c1c1c" stroke-width="0.9" stroke-linejoin="round" stroke-linecap="round" />
<line x1="312.6" y1="309.0" x2="312.6" y2="314.5" stroke="#1c1c1c" stroke-width="0.7" />
<line x1="305.9" y1="296.6" x2="305.9" y2="309.0" stroke="#1c1c1c" stroke-width="0.9" />
<path d="M305.9,299.8 L309.6,299.8 C316.1,300 318.6,303.4 319.6,306.6 C320.6,310 322.0,311.6 324.6,311.6 L327.6,311.2" fill="none" stroke="#1c1c1c" stroke-width="0.9" stroke-linejoin="round" stroke-linecap="round" />
<path d="M305.9,303.6 L311.6,303.6 C314.8,303.8 316.2,306 316.5,309" fill="none" stroke="#1c1c1c" stroke-width="0.9" stroke-linejoin="round" stroke-linecap="round" />
<line x1="304.2" y1="312.6" x2="304.2" y2="335.4" stroke="#1c1c1c" stroke-width="0.7" />
<rect x="301.2" y="313.9" width="6.4" height="1.5" fill="#1c1c1c" stroke="#1c1c1c" stroke-width="0.8" />
<rect x="300.8" y="315.4" width="7.0" height="12.4" fill="none" stroke="#1c1c1c" stroke-width="0.9" />
<line x1="300.8" y1="318.4" x2="307.8" y2="318.4" stroke="#1c1c1c" stroke-width="0.7" />
<line x1="300.8" y1="323.0" x2="307.8" y2="323.0" stroke="#1c1c1c" stroke-width="0.7" />
<circle cx="304.0" cy="320.5" r="1.4" fill="none" stroke="#1c1c1c" stroke-width="0.8"/>
<line x1="305.4" y1="320.5" x2="309.2" y2="320.5" stroke="#1c1c1c" stroke-width="0.9" />
<rect x="299.8" y="327.8" width="9.0" height="3.4" fill="none" stroke="#1c1c1c" stroke-width="0.9" />
<rect x="293.5" y="331.6" width="21.2" height="3.1" fill="#bbb" stroke="#1c1c1c" stroke-width="1.0" />
<line x1="296.0" y1="327.4" x2="296.0" y2="335.8" stroke="#1c1c1c" stroke-width="0.8" />
<line x1="299.7" y1="327.4" x2="299.7" y2="335.8" stroke="#1c1c1c" stroke-width="0.8" />
<line x1="310.2" y1="327.4" x2="310.2" y2="335.8" stroke="#1c1c1c" stroke-width="0.8" />
<line x1="313.4" y1="327.4" x2="313.4" y2="335.8" stroke="#1c1c1c" stroke-width="0.8" />
<line x1="150.6" y1="306.0" x2="150.6" y2="334.0" stroke="#1c1c1c" stroke-width="0.7" />
<rect x="147.0" y="314.4" width="7.2" height="13.8" fill="none" stroke="#1c1c1c" stroke-width="0.9" />
<line x1="147.0" y1="318.0" x2="154.2" y2="318.0" stroke="#1c1c1c" stroke-width="0.7" />
<line x1="147.0" y1="325.0" x2="154.2" y2="325.0" stroke="#1c1c1c" stroke-width="0.7" />
<circle cx="150.6" cy="321.4" r="1.4" fill="none" stroke="#1c1c1c" stroke-width="0.8"/>
<line x1="152.0" y1="321.4" x2="155.0" y2="321.4" stroke="#1c1c1c" stroke-width="0.8" />
<line x1="145.6" y1="328.2" x2="155.6" y2="328.2" stroke="#1c1c1c" stroke-width="0.9" />
<line x1="146.2" y1="328.2" x2="146.2" y2="331.0" stroke="#1c1c1c" stroke-width="0.9" />
<line x1="155.0" y1="328.2" x2="155.0" y2="331.0" stroke="#1c1c1c" stroke-width="0.9" />
<line x1="370.2" y1="306.0" x2="370.2" y2="334.0" stroke="#1c1c1c" stroke-width="0.7" />
<rect x="366.6" y="314.4" width="7.2" height="13.8" fill="none" stroke="#1c1c1c" stroke-width="0.9" />
<line x1="366.6" y1="318.0" x2="373.8" y2="318.0" stroke="#1c1c1c" stroke-width="0.7" />
<line x1="366.6" y1="325.0" x2="373.8" y2="325.0" stroke="#1c1c1c" stroke-width="0.7" />
<circle cx="370.2" cy="321.4" r="1.4" fill="none" stroke="#1c1c1c" stroke-width="0.8"/>
<line x1="371.6" y1="321.4" x2="374.6" y2="321.4" stroke="#1c1c1c" stroke-width="0.8" />
<line x1="365.2" y1="328.2" x2="375.2" y2="328.2" stroke="#1c1c1c" stroke-width="0.9" />
<line x1="365.8" y1="328.2" x2="365.8" y2="331.0" stroke="#1c1c1c" stroke-width="0.9" />
<line x1="374.6" y1="328.2" x2="374.6" y2="331.0" stroke="#1c1c1c" stroke-width="0.9" />
<rect x="142.3" y="311.4" width="19.6" height="2.6" fill="none" stroke="#1c1c1c" stroke-width="0.9" />
<line x1="142.3" y1="309.4" x2="162.4" y2="309.4" stroke="#1c1c1c" stroke-width="0.9" />
<rect x="358.8" y="311.4" width="19.8" height="2.6" fill="none" stroke="#1c1c1c" stroke-width="0.9" />
<line x1="358.8" y1="309.4" x2="378.6" y2="309.4" stroke="#1c1c1c" stroke-width="0.9" />
<rect x="140.5" y="331.0" width="22.0" height="2.6" fill="#555" stroke="#1c1c1c" stroke-width="1.0" />
<rect x="358.6" y="331.0" width="22.4" height="2.6" fill="#555" stroke="#1c1c1c" stroke-width="1.0" />
<line x1="162.5" y1="332.4" x2="172.4" y2="332.4" stroke="#1c1c1c" stroke-width="0.9" />
<line x1="172.4" y1="328.6" x2="172.4" y2="334.0" stroke="#1c1c1c" stroke-width="0.9" />
<line x1="348.4" y1="332.4" x2="358.6" y2="332.4" stroke="#1c1c1c" stroke-width="0.9" />
<line x1="348.8" y1="328.6" x2="348.8" y2="334.0" stroke="#1c1c1c" stroke-width="0.9" />
<rect x="163.6" y="319.4" width="5.6" height="8.6" fill="none" stroke="#1c1c1c" stroke-width="0.9" />
<line x1="163.6" y1="321.6" x2="169.2" y2="321.6" stroke="#1c1c1c" stroke-width="0.7" />
<circle cx="166.4" cy="324.8" r="1.3" fill="#1c1c1c" stroke="#1c1c1c" stroke-width="0.6"/>
<line x1="165.2" y1="328.0" x2="165.2" y2="332.4" stroke="#1c1c1c" stroke-width="0.8" />
<line x1="167.6" y1="328.0" x2="167.6" y2="332.4" stroke="#1c1c1c" stroke-width="0.8" />
<rect x="352.2" y="319.4" width="5.6" height="8.6" fill="none" stroke="#1c1c1c" stroke-width="0.9" />
<line x1="352.2" y1="321.6" x2="357.8" y2="321.6" stroke="#1c1c1c" stroke-width="0.7" />
<circle cx="355.0" cy="324.8" r="1.3" fill="#1c1c1c" stroke="#1c1c1c" stroke-width="0.6"/>
<line x1="353.8" y1="328.0" x2="353.8" y2="332.4" stroke="#1c1c1c" stroke-width="0.8" />
<line x1="356.2" y1="328.0" x2="356.2" y2="332.4" stroke="#1c1c1c" stroke-width="0.8" />
<path d="M130.4,299.8 L130.4,297.4 L132.4,295.2 L135.4,295.2 L135.8,298.4" fill="none" stroke="#1c1c1c" stroke-width="1.7" stroke-linejoin="round" stroke-linecap="round" />
<path d="M129.2,300.6 L132.4,300.6 L133.6,302.4" fill="none" stroke="#1c1c1c" stroke-width="1.4" stroke-linejoin="round" stroke-linecap="round" />
<path d="M127.0,304.5 L127.0,309.8 L132.4,309.8" fill="none" stroke="#1c1c1c" stroke-width="1.4" stroke-linejoin="round" stroke-linecap="round" />
<path d="M135.9,299.6 L135.9,312" fill="none" stroke="#1c1c1c" stroke-width="2.2" stroke-linejoin="round" stroke-linecap="round" />
<path d="M127.0,304.5 L140.4,304.5 M127.6,308.2 L140.0,308.2" fill="none" stroke="#1c1c1c" stroke-width="1.4" stroke-linejoin="round" stroke-linecap="round" />
<path d="M138.4,302.6 L138.4,310" fill="none" stroke="#1c1c1c" stroke-width="1.2" stroke-linejoin="round" stroke-linecap="round" />
<line x1="135.9" y1="312.0" x2="135.9" y2="334.0" stroke="#1c1c1c" stroke-width="0.9" />
<path d="M385.3,299.4 L385.3,296 L387.4,294.9 L390.2,295.6 L392,298 L391.4,299.4" fill="none" stroke="#1c1c1c" stroke-width="1.7" stroke-linejoin="round" stroke-linecap="round" />
<path d="M386.4,300.6 L389.6,300.6" fill="none" stroke="#1c1c1c" stroke-width="1.3" stroke-linejoin="round" stroke-linecap="round" />
<path d="M394.4,304.5 L394.4,306.2 M394.4,308.2 L394.4,310" fill="none" stroke="#1c1c1c" stroke-width="1.4" stroke-linejoin="round" stroke-linecap="round" />
<path d="M384.7,299.6 L384.7,312" fill="none" stroke="#1c1c1c" stroke-width="2.2" stroke-linejoin="round" stroke-linecap="round" />
<path d="M393.6,304.5 L380.2,304.5 M393.0,308.2 L380.6,308.2" fill="none" stroke="#1c1c1c" stroke-width="1.4" stroke-linejoin="round" stroke-linecap="round" />
<path d="M382.2,302.6 L382.2,310" fill="none" stroke="#1c1c1c" stroke-width="1.2" stroke-linejoin="round" stroke-linecap="round" />
<line x1="384.7" y1="312.0" x2="384.7" y2="334.0" stroke="#1c1c1c" stroke-width="0.9" />
<text x="97.5" y="287.0" font-size="11.8" class="nb" text-anchor="middle" >1</text>
<line x1="92.0" y1="288.2" x2="103.0" y2="288.2" stroke="#1c1c1c" stroke-width="0.8" />
<line x1="103.0" y1="288.2" x2="114.9" y2="297.9" stroke="#1c1c1c" stroke-width="0.8" />
<text x="126.8" y="287.0" font-size="11.8" class="nb" text-anchor="middle" >2</text>
<line x1="123.0" y1="288.2" x2="130.4" y2="288.2" stroke="#1c1c1c" stroke-width="0.8" />
<line x1="130.4" y1="288.2" x2="133.2" y2="294.4" stroke="#1c1c1c" stroke-width="0.8" />
<text x="177.0" y="287.0" font-size="11.8" class="nb" text-anchor="middle" >3</text>
<line x1="173.4" y1="288.2" x2="181.2" y2="288.2" stroke="#1c1c1c" stroke-width="0.8" />
<line x1="181.2" y1="288.2" x2="188.0" y2="298.8" stroke="#1c1c1c" stroke-width="0.8" />
<text x="278.8" y="287.0" font-size="11.8" class="nb" text-anchor="middle" >4</text>
<line x1="273.3" y1="288.2" x2="281.6" y2="288.2" stroke="#1c1c1c" stroke-width="0.8" />
<line x1="281.6" y1="288.2" x2="261.4" y2="298.8" stroke="#1c1c1c" stroke-width="0.8" />
<text x="327.4" y="287.0" font-size="11.8" class="nb" text-anchor="middle" >3</text>
<line x1="323.7" y1="288.2" x2="331.0" y2="288.2" stroke="#1c1c1c" stroke-width="0.8" />
<line x1="331.0" y1="288.2" x2="340.2" y2="298.8" stroke="#1c1c1c" stroke-width="0.8" />
<text x="351.2" y="287.0" font-size="11.8" class="nb" text-anchor="middle" >5</text>
<line x1="347.5" y1="288.2" x2="354.9" y2="288.2" stroke="#1c1c1c" stroke-width="0.8" />
<line x1="354.9" y1="288.2" x2="368.6" y2="318.0" stroke="#1c1c1c" stroke-width="0.8" />
<text x="367.1" y="287.0" font-size="11.8" class="nb" text-anchor="middle" >6</text>
<line x1="364.0" y1="288.2" x2="371.3" y2="288.2" stroke="#1c1c1c" stroke-width="0.8" />
<line x1="371.3" y1="288.2" x2="380.5" y2="300.6" stroke="#1c1c1c" stroke-width="0.8" />
<text x="351.4" y="358.6" font-size="11.5" class="nm" text-anchor="start" >(b)</text>
<line x1="462.0" y1="335.2" x2="639.0" y2="335.2" stroke="#1c1c1c" stroke-width="1.0" />
<line x1="473.0" y1="335.2" x2="468.4" y2="341.6" stroke="#1c1c1c" stroke-width="0.8" />
<line x1="483.8" y1="335.2" x2="479.1" y2="341.6" stroke="#1c1c1c" stroke-width="0.8" />
<line x1="494.5" y1="335.2" x2="489.9" y2="341.6" stroke="#1c1c1c" stroke-width="0.8" />
<line x1="505.2" y1="335.2" x2="500.6" y2="341.6" stroke="#1c1c1c" stroke-width="0.8" />
<line x1="516.0" y1="335.2" x2="511.4" y2="341.6" stroke="#1c1c1c" stroke-width="0.8" />
<line x1="526.8" y1="335.2" x2="522.1" y2="341.6" stroke="#1c1c1c" stroke-width="0.8" />
<line x1="537.5" y1="335.2" x2="532.9" y2="341.6" stroke="#1c1c1c" stroke-width="0.8" />
<line x1="548.2" y1="335.2" x2="543.6" y2="341.6" stroke="#1c1c1c" stroke-width="0.8" />
<line x1="559.0" y1="335.2" x2="554.4" y2="341.6" stroke="#1c1c1c" stroke-width="0.8" />
<line x1="569.8" y1="335.2" x2="565.1" y2="341.6" stroke="#1c1c1c" stroke-width="0.8" />
<line x1="580.5" y1="335.2" x2="575.9" y2="341.6" stroke="#1c1c1c" stroke-width="0.8" />
<line x1="591.2" y1="335.2" x2="586.6" y2="341.6" stroke="#1c1c1c" stroke-width="0.8" />
<line x1="602.0" y1="335.2" x2="597.4" y2="341.6" stroke="#1c1c1c" stroke-width="0.8" />
<line x1="612.8" y1="335.2" x2="608.1" y2="341.6" stroke="#1c1c1c" stroke-width="0.8" />
<line x1="623.5" y1="335.2" x2="618.9" y2="341.6" stroke="#1c1c1c" stroke-width="0.8" />
<line x1="634.2" y1="335.2" x2="629.6" y2="341.6" stroke="#1c1c1c" stroke-width="0.8" />
<line x1="551.0" y1="287.6" x2="551.0" y2="344.4" stroke="#1c1c1c" stroke-width="0.8" stroke-dasharray="16 2 2.5 2"/>
<line x1="469.6" y1="295.2" x2="631.6" y2="295.2" stroke="#1c1c1c" stroke-width="1.1" />
<line x1="469.6" y1="297.3" x2="631.6" y2="297.3" stroke="#1c1c1c" stroke-width="1.0" />
<line x1="469.6" y1="295.2" x2="469.6" y2="297.3" stroke="#1c1c1c" stroke-width="0.9" />
<line x1="631.6" y1="295.2" x2="631.6" y2="330.0" stroke="#1c1c1c" stroke-width="0.9" />
<line x1="470.7" y1="297.2" x2="470.7" y2="333.0" stroke="#1c1c1c" stroke-width="0.9" />
<line x1="471.2" y1="297.4" x2="478.5" y2="309.8" stroke="#1c1c1c" stroke-width="0.9" />
<line x1="630.7" y1="297.6" x2="623.3" y2="309.8" stroke="#1c1c1c" stroke-width="0.9" />
<line x1="495.6" y1="329.4" x2="606.0" y2="329.4" stroke="#1c1c1c" stroke-width="0.9" />
<rect x="473.4" y="310.7" width="21.8" height="3.8" fill="none" stroke="#1c1c1c" stroke-width="0.9" />
<rect x="606.8" y="310.7" width="22.0" height="4.2" fill="none" stroke="#1c1c1c" stroke-width="0.9" />
<line x1="490.8" y1="314.5" x2="490.8" y2="329.4" stroke="#1c1c1c" stroke-width="0.9" />
<line x1="494.7" y1="314.5" x2="494.7" y2="329.4" stroke="#1c1c1c" stroke-width="0.9" />
<line x1="605.8" y1="310.7" x2="605.8" y2="329.4" stroke="#1c1c1c" stroke-width="0.9" />
<line x1="607.8" y1="310.7" x2="607.8" y2="329.4" stroke="#1c1c1c" stroke-width="0.9" />
<line x1="482.9" y1="307.0" x2="482.9" y2="338.2" stroke="#1c1c1c" stroke-width="0.7" />
<rect x="479.0" y="315.6" width="7.8" height="11.6" fill="none" stroke="#1c1c1c" stroke-width="0.9" />
<line x1="480.9" y1="315.6" x2="480.9" y2="327.2" stroke="#1c1c1c" stroke-width="1.3" />
<line x1="484.9" y1="315.6" x2="484.9" y2="327.2" stroke="#1c1c1c" stroke-width="1.3" />
<rect x="480.1" y="327.2" width="5.6" height="4.8" fill="none" stroke="#1c1c1c" stroke-width="0.9" />
<line x1="477.5" y1="329.6" x2="488.3" y2="329.6" stroke="#1c1c1c" stroke-width="0.8" />
<line x1="618.7" y1="307.0" x2="618.7" y2="338.2" stroke="#1c1c1c" stroke-width="0.7" />
<rect x="614.8" y="315.6" width="7.8" height="11.6" fill="none" stroke="#1c1c1c" stroke-width="0.9" />
<line x1="616.7" y1="315.6" x2="616.7" y2="327.2" stroke="#1c1c1c" stroke-width="1.3" />
<line x1="620.7" y1="315.6" x2="620.7" y2="327.2" stroke="#1c1c1c" stroke-width="1.3" />
<rect x="615.9" y="327.2" width="5.6" height="4.8" fill="none" stroke="#1c1c1c" stroke-width="0.9" />
<line x1="613.3" y1="329.6" x2="624.1" y2="329.6" stroke="#1c1c1c" stroke-width="0.8" />
<rect x="471.7" y="332.5" width="21.5" height="2.7" fill="#666" stroke="#1c1c1c" stroke-width="1.0" />
<rect x="608.0" y="332.5" width="21.7" height="2.7" fill="#666" stroke="#1c1c1c" stroke-width="1.0" />
<path d="M502.3,297.4 L506,327.2 L521.6,327.2 L526.7,297.4" fill="none" stroke="#1c1c1c" stroke-width="1.5" stroke-linejoin="round" stroke-linecap="round" stroke-dasharray="4.5 1.8"/>
<polyline points="465.0,335.2 465.0,322.0 468.8,322.0 468.8,335.2" fill="none" stroke="#1c1c1c" stroke-width="1.0" stroke-linejoin="round" />
<line x1="465.0" y1="327.0" x2="468.8" y2="327.0" stroke="#1c1c1c" stroke-width="0.8" />
<path d="M465.0,324.4 L459.4,324.6" fill="none" stroke="#333" stroke-width="3.6" stroke-linejoin="round" stroke-linecap="round" stroke-dasharray="1.2 0.6"/>
<line x1="468.8" y1="324.4" x2="470.6" y2="324.4" stroke="#1c1c1c" stroke-width="1.0" />
<polyline points="636.0,335.2 636.0,322.0 632.2,322.0 632.2,335.2" fill="none" stroke="#1c1c1c" stroke-width="1.0" stroke-linejoin="round" />
<line x1="636.0" y1="327.0" x2="632.2" y2="327.0" stroke="#1c1c1c" stroke-width="0.8" />
<path d="M636.0,324.4 L641.6,324.6" fill="none" stroke="#333" stroke-width="3.6" stroke-linejoin="round" stroke-linecap="round" stroke-dasharray="1.2 0.6"/>
<line x1="632.2" y1="324.4" x2="630.4" y2="324.4" stroke="#1c1c1c" stroke-width="1.0" />
<text x="447.4" y="287.0" font-size="11.8" class="nb" text-anchor="middle" >7</text>
<line x1="444.3" y1="287.8" x2="451.0" y2="287.8" stroke="#1c1c1c" stroke-width="0.8" />
<line x1="451.0" y1="287.8" x2="463.0" y2="323.5" stroke="#1c1c1c" stroke-width="0.8" />
<text x="460.2" y="287.0" font-size="11.8" class="nb" text-anchor="middle" >8</text>
<line x1="456.5" y1="287.8" x2="464.8" y2="287.8" stroke="#1c1c1c" stroke-width="0.8" />
<line x1="464.8" y1="287.8" x2="474.9" y2="333.6" stroke="#1c1c1c" stroke-width="0.8" />
<text x="484.4" y="287.0" font-size="11.8" class="nb" text-anchor="middle" >9</text>
<line x1="480.4" y1="287.8" x2="488.6" y2="287.8" stroke="#1c1c1c" stroke-width="0.8" />
<line x1="488.6" y1="287.8" x2="490.4" y2="331.8" stroke="#1c1c1c" stroke-width="0.8" />
<text x="532.6" y="287.0" font-size="11.8" class="nb" text-anchor="middle" >10</text>
<line x1="528.0" y1="287.8" x2="537.0" y2="287.8" stroke="#1c1c1c" stroke-width="0.8" />
<line x1="537.0" y1="287.8" x2="525.2" y2="307.0" stroke="#1c1c1c" stroke-width="0.8" />
<text x="262.6" y="398.4" font-size="11.6" class="cp" text-anchor="start" >图</text>
<text x="277.8" y="398.4" font-size="12.4" class="nm" text-anchor="start" >10</text>
<text x="294.8" y="398.0" font-size="12" class="nm" text-anchor="start" >–</text>
<text x="302.0" y="398.4" font-size="12.4" class="nm" text-anchor="start" >4</text>
<text x="323.4" y="398.4" font-size="11.6" class="cp" textLength="129.8" lengthAdjust="spacing">电子汽车衡结构示意图</text>
<text x="167.4" y="416.6" font-size="10.5" class="cp" textLength="384" lengthAdjust="spacing"><tspan font-size="12" font-weight="400">1</tspan>—基础引坡；<tspan font-size="12" font-weight="400">2</tspan>—基础护边角钢；<tspan font-size="12" font-weight="400">3</tspan>—两端秤台；<tspan font-size="12" font-weight="400">4</tspan>—中间秤台；<tspan font-size="12" font-weight="400">5</tspan>—传感器；</text>
<text x="167.4" y="436.2" font-size="10.5" class="cp" textLength="379.6" lengthAdjust="spacing"><tspan font-size="12" font-weight="400">6</tspan>—纵向限位；<tspan font-size="12" font-weight="400">7</tspan>—横向限位；<tspan font-size="12" font-weight="400">8</tspan>—基础板；<tspan font-size="12" font-weight="400">9</tspan>—传感器安装板；<tspan font-size="12" font-weight="400">10</tspan>—承载主梁</text>
</svg>
<div class="edge"></div>
</body></html>
